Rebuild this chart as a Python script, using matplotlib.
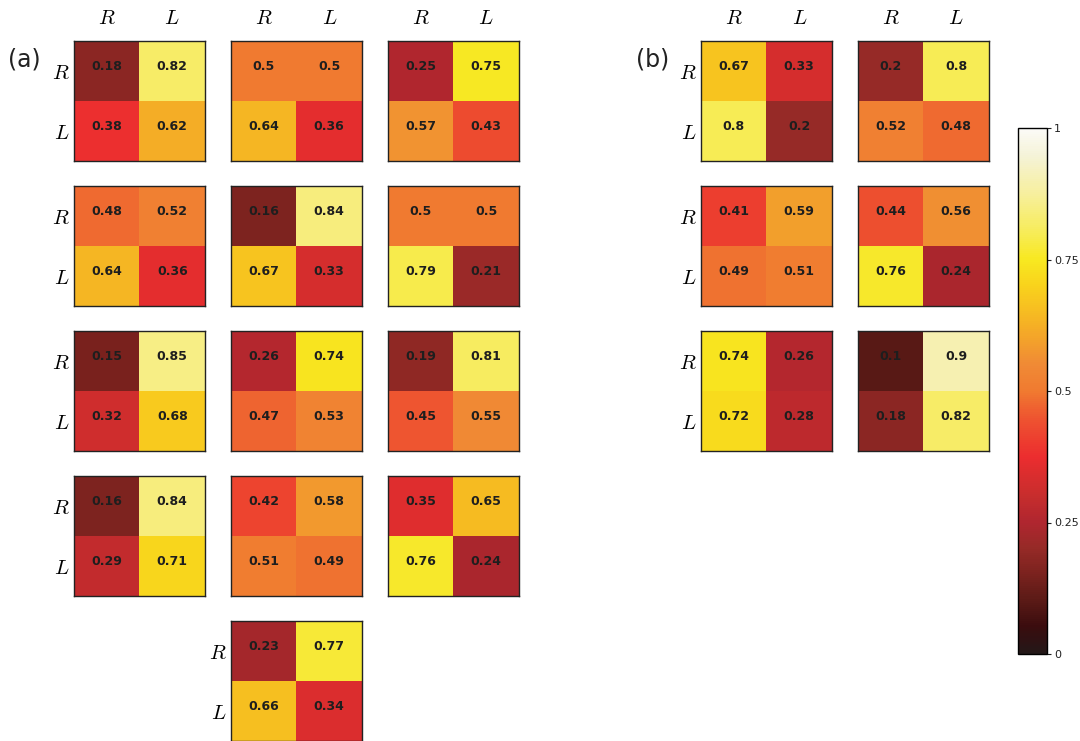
import numpy as np
import matplotlib.pyplot as plt
from matplotlib.colors import LinearSegmentedColormap

plt.rcParams['mathtext.fontset'] = 'cm'

W, H = 1080, 741

labels = ['R', 'L']

# panel (a): rows of 3 maps (last row only the middle one), values [[RR, RL], [LR, LL]]
panel_a = [
    [[0.18, 0.82, 0.38, 0.62], [0.5, 0.5, 0.64, 0.36], [0.25, 0.75, 0.57, 0.43]],
    [[0.48, 0.52, 0.64, 0.36], [0.16, 0.84, 0.67, 0.33], [0.5, 0.5, 0.79, 0.21]],
    [[0.15, 0.85, 0.32, 0.68], [0.26, 0.74, 0.47, 0.53], [0.19, 0.81, 0.45, 0.55]],
    [[0.16, 0.84, 0.29, 0.71], [0.42, 0.58, 0.51, 0.49], [0.35, 0.65, 0.76, 0.24]],
    [None, [0.23, 0.77, 0.66, 0.34], None],
]
# panel (b): rows of 2 maps
panel_b = [
    [[0.67, 0.33, 0.8, 0.2], [0.2, 0.8, 0.52, 0.48]],
    [[0.41, 0.59, 0.49, 0.51], [0.44, 0.56, 0.76, 0.24]],
    [[0.74, 0.26, 0.72, 0.28], [0.1, 0.9, 0.18, 0.82]],
]

cb_ticks = [0, 0.25, 0.5, 0.75, 1]
cb_ticklabels = ['0', '0.25', '0.5', '0.75', '1']

# colour scale
cmap = LinearSegmentedColormap.from_list('heat', [
    (0.0, '#231818'), (0.05, '#3a0c0e'), (0.1, '#5a1a16'), (0.15, '#7a221e'),
    (0.2, '#962a27'), (0.25, '#b0262f'), (0.3, '#c72d2d'), (0.375, '#ec2d2f'),
    (0.45, '#ee5530'), (0.5, '#f07a30'), (0.55, '#f08a35'), (0.625, '#f5b025'),
    (0.7, '#f9d21c'), (0.75, '#f8e820'), (0.8, '#f7ec55'), (0.875, '#f7ef9c'),
    (0.95, '#f5f3d8'), (1.0, '#fbfbf8')])

fig = plt.figure(figsize=(W / 100, H / 100), dpi=100)

cw, ch = 131, 120
a_x = [74, 231, 388]
b_x = [701, 858]
rows_y = [41, 186, 331, 476, 621]


def heatmap(x, y, vals, top_labels, left_labels):
    ax = fig.add_axes([x / W, 1 - (y + ch) / H, cw / W, ch / H])
    m = np.array(vals).reshape(2, 2)
    ax.imshow(m, cmap=cmap, vmin=0, vmax=1, aspect='auto')
    for i in range(2):
        for j in range(2):
            ax.text(j, i - 0.08, f'{m[i, j]:g}', ha='center', va='center',
                    fontsize=9, fontweight='bold', color='#1e1e1e')
    ax.set_xticks([0, 1])
    ax.set_yticks([0, 1])
    ax.xaxis.tick_top()
    ax.tick_params(length=0, labelsize=15)
    ax.tick_params(axis='x', pad=9)
    ax.tick_params(axis='y', pad=3)
    ax.set_xticklabels([f'${s}$' for s in labels] if top_labels else [])
    ax.set_yticklabels([f'${s}$' for s in labels] if left_labels else [])
    for sp in ax.spines.values():
        sp.set_linewidth(1.0)
        sp.set_color('#222222')
    return ax


for r, row in enumerate(panel_a):
    for c, vals in enumerate(row):
        if vals is None:
            continue
        heatmap(a_x[c], rows_y[r], vals, r == 0, c == 0 or r == 4)

for r, row in enumerate(panel_b):
    for c, vals in enumerate(row):
        heatmap(b_x[c], rows_y[r], vals, r == 0, c == 0)

fig.text(8 / W, 1 - 60 / H, '(a)', fontsize=17, va='center', color='#222222')
fig.text(636 / W, 1 - 60 / H, '(b)', fontsize=17, va='center', color='#222222')

cax = fig.add_axes([1018 / W, 1 - 654 / H, 29 / W, 526 / H])
sm = plt.cm.ScalarMappable(cmap=cmap, norm=plt.Normalize(0, 1))
cb = fig.colorbar(sm, cax=cax, ticks=cb_ticks)
cb.ax.set_yticklabels(cb_ticklabels)
cb.ax.tick_params(labelsize=8, length=3, pad=2, colors='#222222')
cb.outline.set_linewidth(1.0)

fig.savefig('out.png', dpi=100)
